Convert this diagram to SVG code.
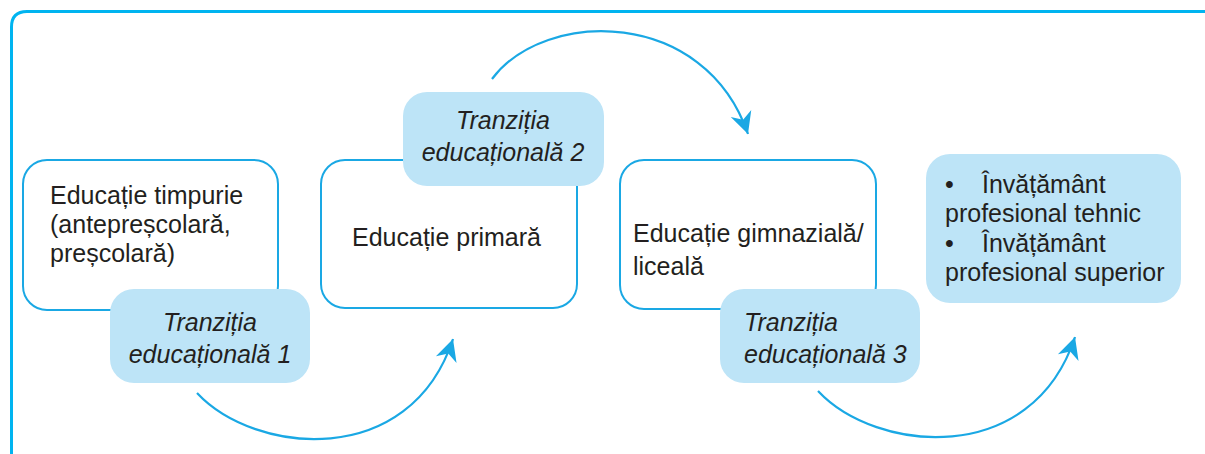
<svg xmlns="http://www.w3.org/2000/svg" width="1205" height="454" viewBox="0 0 1205 454">
<style>
.frame{fill:none;stroke:#00b4f0;stroke-width:3}
.box{fill:#fff;stroke:#1aa8e4;stroke-width:2}
.tbox{fill:#bde4f7;stroke:none}
.t{font-family:"Liberation Sans",Arial,sans-serif;font-size:25px;fill:#231f20}
.i{font-style:italic}
.conn{fill:none;stroke:#1aa8e4;stroke-width:2.2}
</style>
<defs>
<marker id="ah" markerUnits="userSpaceOnUse" markerWidth="26" markerHeight="26" viewBox="-22 -12 24 24" refX="0" refY="0" orient="auto">
<path d="M0,0 L-20,-10 L-14,0 L-20,10 Z" fill="#1aa8e4"/>
</marker>
</defs>
<rect width="1205" height="454" fill="#fff"/>
<path class="frame" d="M11.5,460 V27 Q11.5,11.5 27,11.5 H1215"/>
<g id="connectors">
<path class="conn" d="M197,393 C255,455 410,470 453,339" marker-end="url(#ah)"/>
<path class="conn" d="M492,79 C545,8 705,8 748,134" marker-end="url(#ah)"/>
<path class="conn" d="M818,391 C876,453 1032,468 1075,337" marker-end="url(#ah)"/>
</g>
<g id="n1">
<rect class="box" x="23" y="160" width="255" height="150" rx="24"/>
<text class="t" x="50" y="204">Educație timpurie</text>
<text class="t" x="50" y="233">(antepreșcolară,</text>
<text class="t" x="50" y="262">preșcolară)</text>
</g>
<g id="t1">
<rect class="tbox" x="110" y="289" width="200" height="94" rx="24"/>
<text class="t i" x="210" y="331" text-anchor="middle">Tranziția</text>
<text class="t i" x="210" y="363" text-anchor="middle">educațională 1</text>
</g>
<g id="n2">
<rect class="box" x="321" y="160" width="256" height="148" rx="24"/>
<text class="t" x="352" y="246">Educație primară</text>
</g>
<g id="t2">
<rect class="tbox" x="403" y="92" width="201" height="94" rx="24"/>
<text class="t i" x="503" y="129" text-anchor="middle">Tranziția</text>
<text class="t i" x="503" y="161" text-anchor="middle">educațională 2</text>
</g>
<g id="n3">
<rect class="box" x="620" y="160" width="256" height="149" rx="24"/>
<text class="t" x="633" y="242">Educație gimnazială/</text>
<text class="t" x="633" y="275">liceală</text>
</g>
<g id="t3">
<rect class="tbox" x="720" y="289" width="200" height="94" rx="24"/>
<text class="t i" x="744" y="331">Tranziția</text>
<text class="t i" x="744" y="363">educațională 3</text>
</g>
<g id="n4">
<rect class="tbox" x="926" y="154" width="255" height="149" rx="24"/>
<text class="t" x="945" y="193">•</text>
<text class="t" x="982" y="193">Învățământ</text>
<text class="t" x="945" y="222">profesional tehnic</text>
<text class="t" x="945" y="252">•</text>
<text class="t" x="982" y="252">Învățământ</text>
<text class="t" x="945" y="281">profesional superior</text>
</g>
</svg>
